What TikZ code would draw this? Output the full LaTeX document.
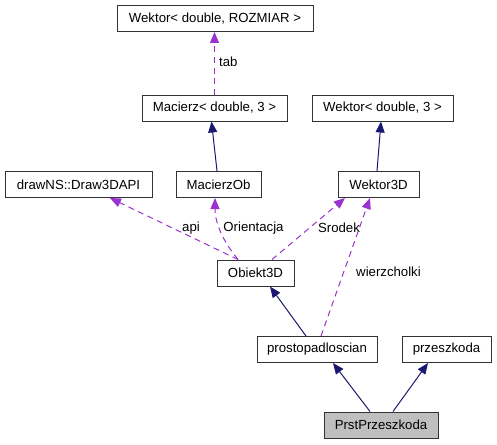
\documentclass[tikz,border=0pt]{standalone}
\usepackage{fontspec}
\setmainfont{Liberation Sans}
\usetikzlibrary{arrows.meta,calc}
\definecolor{navy}{RGB}{25,25,112}
\definecolor{orch}{RGB}{154,50,205}
\definecolor{boxgray}{RGB}{191,191,191}
\begin{document}
\begin{tikzpicture}[x=1pt,y=-1pt,
  cls/.style={draw=black!80,line width=1pt,minimum height=26pt,inner sep=0pt,font=\fontsize{13.2}{15}\selectfont,anchor=center},
  inh/.style={draw=navy,line width=1pt,-{Triangle[length=11pt,width=9pt]}},
  use/.style={draw=orch,line width=1pt,dash pattern=on 6pt off 4.5pt,-{Triangle[length=11pt,width=9pt]}},
  lbl/.style={font=\fontsize{13.2}{15}\selectfont,inner sep=0pt}]
\useasboundingbox (0,0) rectangle (497,444);
\node[cls,minimum width=196pt] (wr) at (215,18.5) {Wektor< double, ROZMIAR >};
\node[cls,minimum width=145pt] (mac) at (214.5,108) {Macierz< double, 3 >};
\node[cls,minimum width=141pt] (wd3) at (382.5,108) {Wektor< double, 3 >};
\node[cls,minimum width=147pt] (drw) at (78.5,184.5) {drawNS::Draw3DAPI};
\node[cls,minimum width=85pt] (mob) at (218.5,184.5) {MacierzOb};
\node[cls,minimum width=81pt] (w3d) at (378.5,184.5) {Wektor3D};
\node[cls,minimum width=77pt] (obj) at (255.5,273) {Obiekt3D};
\node[cls,minimum width=120pt] (prost) at (317,349.5) {prostopadloscian};
\node[cls,minimum width=89pt] (prz) at (446.5,349.5) {przeszkoda};
\node[cls,minimum width=114pt,fill=boxgray] (prst) at (381,425) {PrstPrzeszkoda};

\draw[use] (mac.north) -- (mac.north |- wr.south);
\node[lbl,anchor=west] (ltab) at (219,62) {tab};
\draw[inh] ([xshift=-1.5pt]mob.north) -- ([xshift=-3pt]mac.south);
\draw[inh] ([xshift=-1.5pt]w3d.north) -- ([xshift=-1.5pt]wd3.south);
\draw[use] ([xshift=-17.5pt]obj.north) -- ([xshift=31.5pt]drw.south);
\node[lbl] (lapi) at (191,228) {api};
\draw[use] ([xshift=-17.5pt]obj.north) .. controls (222,240) and (215,222) .. ([xshift=-3.5pt]mob.south);
\node[lbl] (lori) at (253.5,228) {Orientacja};
\draw[use] ([xshift=16.5pt]obj.north) -- ([xshift=-33.5pt]w3d.south);
\node[lbl] (lsro) at (339,228) {Srodek};
\draw[use] ([xshift=4pt]prost.north) -- ([xshift=-8.5pt]w3d.south);
\node[lbl] (lwie) at (388.5,272) {wierzcholki};
\draw[inh] ([xshift=-11pt]prost.north) -- ([xshift=14.5pt]obj.south);
\draw[inh] ([xshift=-11pt]prst.north) -- ([xshift=16pt]prost.south);
\draw[inh] ([xshift=12pt]prst.north) -- ([xshift=-18.5pt]prz.south);
\end{tikzpicture}
\end{document}
